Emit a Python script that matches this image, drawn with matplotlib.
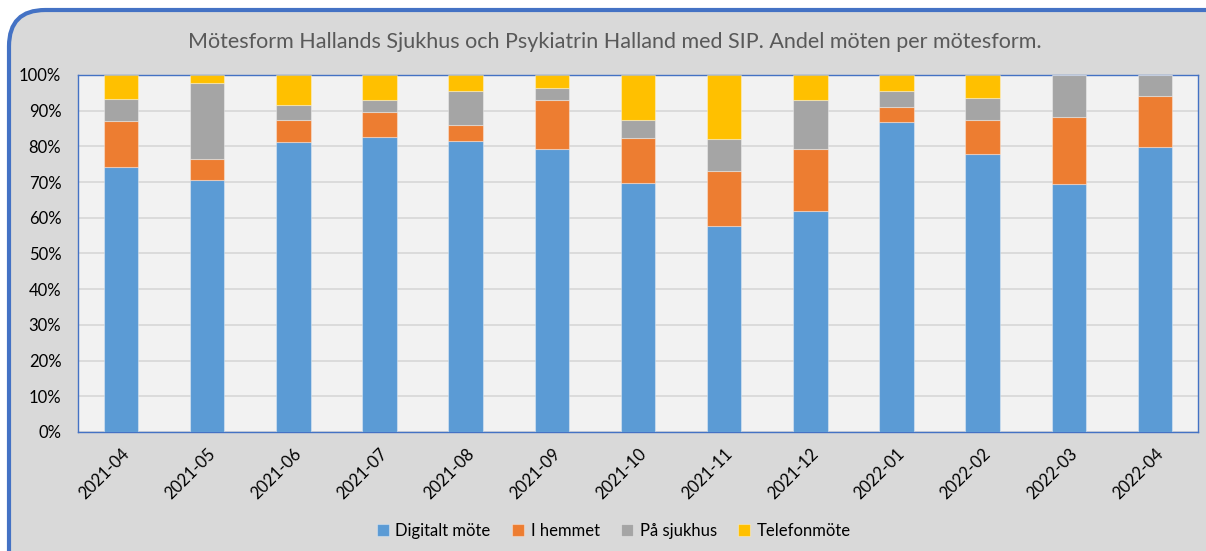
import matplotlib.pyplot as plt
import matplotlib as mpl
import numpy as np
from matplotlib.patches import FancyBboxPatch
from matplotlib.ticker import PercentFormatter

mpl.rcParams['font.family'] = ['Lato', 'DejaVu Sans']

months = ["2021-04", "2021-05", "2021-06", "2021-07", "2021-08", "2021-09", "2021-10",
          "2021-11", "2021-12", "2022-01", "2022-02", "2022-03", "2022-04"]

# andel i procent per mötesform
digitalt = [74.2, 70.6, 81.1, 82.6, 81.5, 79.2, 69.7, 57.7, 61.9, 86.8, 78.0, 69.6, 79.7]
hemmet = [12.9, 5.8, 6.2, 6.9, 4.6, 13.7, 12.7, 15.5, 17.3, 4.2, 9.3, 18.5, 14.4]
sjukhus = [6.2, 21.4, 4.3, 3.4, 9.3, 3.5, 4.9, 8.9, 13.7, 4.4, 6.3, 11.9, 5.9]
telefon = [6.7, 2.2, 8.4, 7.1, 4.6, 3.6, 12.7, 17.9, 7.1, 4.6, 6.4, 0.0, 0.0]

series = [("Digitalt möte", digitalt, "#5b9bd5"),
          ("I hemmet", hemmet, "#ed7d31"),
          ("På sjukhus", sjukhus, "#a5a5a5"),
          ("Telefonmöte", telefon, "#ffc000")]

fig = plt.figure(figsize=(12.06, 5.51), dpi=100)
fig.patch.set_facecolor("white")

# rundad ram runt hela diagrammet
box = FancyBboxPatch((9 / 1206, -0.1), 1.2, (541 / 551) + 0.1,
                     boxstyle="round,pad=0,rounding_size=0.03",
                     transform=fig.transFigure, facecolor="#d9d9d9",
                     edgecolor="#4472c4", linewidth=3, zorder=-5,
                     mutation_aspect=1206 / 551)
fig.patches.append(box)

ax = fig.add_axes([78 / 1206, (551 - 432) / 551, 1120 / 1206, 357 / 551])
ax.set_facecolor("#f2f2f2")

x = np.arange(len(months))
bottom = np.zeros(len(months))
for name, vals, col in series:
    v = np.array(vals) / 100
    ax.bar(x, v, 0.4, bottom=bottom, color=col, label=name,
           edgecolor=(1, 1, 1, 0.35), linewidth=0.8, zorder=3)
    bottom += v

ax.set_xlim(-0.5, len(months) - 0.5)
ax.set_ylim(0, 1)
ax.set_yticks(np.arange(0, 1.01, 0.1))
ax.yaxis.set_major_formatter(PercentFormatter(1.0, decimals=0))
ax.grid(axis="y", color="#d9d9d9", linewidth=1.3, zorder=0)
ax.set_xticks(x)
ax.set_xticklabels(months, rotation=45, ha="right", rotation_mode="anchor")
ax.tick_params(axis="both", length=0, labelsize=12, colors="black")
ax.tick_params(axis="x", pad=10)
ax.tick_params(axis="y", pad=12)
for s in ax.spines.values():
    s.set_color("#4472c4")
    s.set_linewidth(1.0)

fig.text(0.51, 1 - 42 / 551, "Mötesform Hallands Sjukhus och Psykiatrin Halland med SIP. Andel möten per mötesform.",
         ha="center", va="center", fontsize=15.5, color="#595959")

handles, labels = ax.get_legend_handles_labels()
leg = fig.legend(handles, labels, loc="center", bbox_to_anchor=(0.509, 1 - 531 / 551),
                 ncol=4, frameon=False, fontsize=12, handlelength=0.7, handleheight=0.7,
                 handletextpad=0.4, columnspacing=1.3)

fig.savefig("out.png", dpi=100)
